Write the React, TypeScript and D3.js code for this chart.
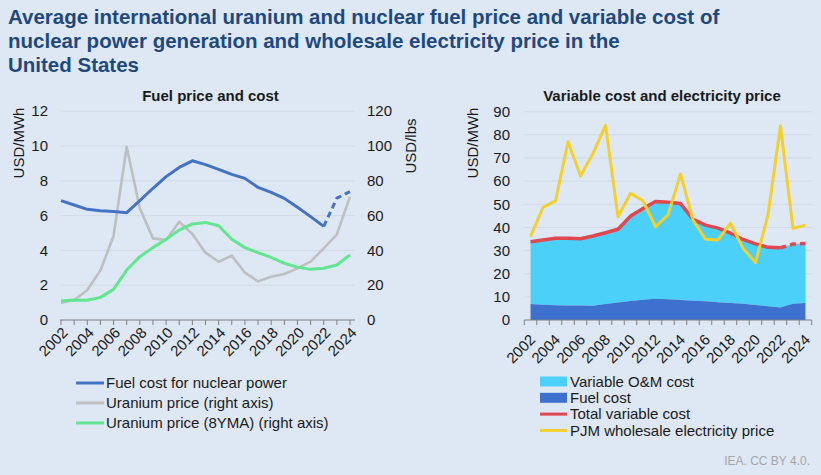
import React from "react";
import * as d3 from "d3";

const years = [2002, 2003, 2004, 2005, 2006, 2007, 2008, 2009, 2010, 2011, 2012, 2013, 2014, 2015, 2016, 2017, 2018, 2019, 2020, 2021, 2022, 2023, 2024];
const yearLabels = [2002, 2004, 2006, 2008, 2010, 2012, 2014, 2016, 2018, 2020, 2022, 2024];

// Left panel (USD/MWh, left axis)
const fuelCost = [6.86, 6.61, 6.36, 6.28, 6.23, 6.17, 6.86, 7.57, 8.24, 8.77, 9.15, 8.93, 8.66, 8.37, 8.14, 7.62, 7.34, 6.99, 6.48, 5.94, 5.38, 7.0, 7.38];
// Right axis USD/lbs
const uraniumPrice = [10, 11.5, 17.2, 28.4, 48.3, 99.6, 64.2, 46.9, 46.0, 56.5, 49.4, 38.7, 33.5, 37.0, 27.2, 22.2, 24.9, 26.4, 29.7, 33.5, 41.2, 49.2, 70.9];
const uranium8yma = [10.9, 11.5, 11.3, 13.0, 17.6, 28.7, 36.4, 41.6, 46.4, 51.7, 55.2, 56.1, 54.2, 46.4, 41.6, 38.7, 36.0, 32.6, 30.4, 29.1, 29.7, 31.6, 37.4];

// Right panel (USD/MWh)
const omCost = [26.94, 27.99, 28.94, 29.02, 28.87, 30.13, 30.84, 31.63, 36.66, 39.43, 42.05, 41.97, 41.64, 35.13, 32.86, 32.08, 30.16, 27.81, 26.42, 25.46, 25.82, 25.8, 25.72];
const totalCost = [33.8, 34.6, 35.3, 35.3, 35.1, 36.3, 37.7, 39.2, 44.9, 48.2, 51.2, 50.9, 50.3, 43.5, 41.0, 39.7, 37.5, 34.8, 32.9, 31.4, 31.2, 32.8, 33.1];
const pjmPrice = [36.0, 48.7, 51.5, 77.0, 62.2, 72.0, 84.1, 44.6, 54.7, 51.5, 40.3, 45.4, 63.1, 43.2, 34.9, 34.6, 41.8, 31.0, 24.8, 45.4, 83.8, 39.6, 41.0];

const leftTicks = [0, 2, 4, 6, 8, 10, 12];
const rightTicks = [0, 20, 40, 60, 80, 100, 120];
const vTicks = [0, 10, 20, 30, 40, 50, 60, 70, 80, 90];

const titleLines = [
  "Average international uranium and nuclear fuel price and variable cost of",
  "nuclear power generation and wholesale electricity price in the",
  "United States",
];

const BG = "#dde8f4";
const FONT = "'Liberation Sans', Arial, Helvetica, sans-serif";
const GRID = "#d2dbe6";
const AXIS = "#7f7f7f";
const TXT = "#1a1a1a";
const C_BLUE = "#4472c4";
const C_GRAY = "#bfbfbf";
const C_GREEN = "#62e68f";
const C_LIGHT = "#4bd0fa";
const C_DARK = "#3d70cf";
const C_RED = "#e0474f";
const C_YEL = "#f5d02a";

export default function App() {
  const W = 821, H = 475;

  // Left panel scales
  const xL = d3.scalePoint<number>().domain(years).range([61, 350]);
  const yL = d3.scaleLinear().domain([0, 12]).range([320, 111.2]);
  const yR = d3.scaleLinear().domain([0, 120]).range([320, 111.2]);

  // Right panel scales
  const xB = d3.scaleBand<number>().domain(years).range([524.3, 811.7]).padding(0);
  const bw = xB.bandwidth();
  const xC = (yr: number) => (xB(yr) as number) + bw / 2;
  const yV = d3.scaleLinear().domain([0, 90]).range([320, 111.7]);

  const idx = years.map((_, i) => i);
  const solidIdx = idx.filter((i) => years[i] <= 2022);
  const dashIdx = idx.filter((i) => years[i] >= 2022);

  const lineL = (vals: number[], ys: d3.ScaleLinear<number, number>) =>
    d3.line<number>().x((i) => xL(years[i]) as number).y((i) => ys(vals[i]));
  const lineV = (vals: number[]) =>
    d3.line<number>().x((i) => xC(years[i])).y((i) => yV(vals[i]));

  const stackData = years.map((yr, i) => ({ yr, fuel: fuelCost[i], om: omCost[i] }));
  const stack = d3.stack<any>().keys(["fuel", "om"])(stackData);
  const area = d3
    .area<any>()
    .x((d) => xC(d.data.yr))
    .y0((d) => yV(d[0]))
    .y1((d) => yV(d[1]));

  const bandEdges = [...years.map((yr) => xB(yr) as number), 811.7];

  return (
    <svg width={W} height={H} style={{ display: "block", position: "absolute", left: 0, top: 0 }} fontFamily={FONT}>
      <rect x={0} y={0} width={W} height={H} fill={BG} />
      {/* Title */}
      {titleLines.map((t, i) => (
        <text key={i} x={8} y={24 + i * 23.8} fontSize={20.5} fontWeight="bold" fill="#1f497d">
          {t}
        </text>
      ))}

      {/* ===== Left panel ===== */}
      <text x={210.5} y={101} textAnchor="middle" fontSize={15} fontWeight="bold" fill={TXT}>
        Fuel price and cost
      </text>
      {leftTicks.filter((t) => t > 0).map((t) => (
        <line key={t} x1={60} x2={355} y1={yL(t)} y2={yL(t)} stroke={GRID} strokeWidth={1} />
      ))}
      {leftTicks.map((t) => (
        <text key={t} x={48} y={yL(t)} dy="0.35em" textAnchor="end" fontSize={15} fill={TXT}>
          {t}
        </text>
      ))}
      {rightTicks.map((t) => (
        <text key={t} x={367} y={yR(t)} dy="0.35em" textAnchor="start" fontSize={15} fill={TXT}>
          {t}
        </text>
      ))}
      <text transform="translate(24,143) rotate(-90)" textAnchor="middle" fontSize={15} fill={TXT}>
        USD/MWh
      </text>
      <text transform="translate(416,146) rotate(-90)" textAnchor="middle" fontSize={15} fill={TXT}>
        USD/lbs
      </text>
      <line x1={60} x2={355} y1={320} y2={320} stroke={AXIS} strokeWidth={1.2} />
      {years.map((yr) => (
        <line key={yr} x1={xL(yr)} x2={xL(yr)} y1={320} y2={325} stroke={AXIS} strokeWidth={1} />
      ))}
      {yearLabels.map((yr) => (
        <text
          key={yr}
          transform={`translate(${(xL(yr) as number) + 4},${330}) rotate(-45)`}
          textAnchor="end"
          dy="0.35em"
          fontSize={15}
          fill={TXT}
        >
          {yr}
        </text>
      ))}
      <path d={lineL(uraniumPrice, yR)(idx) || ""} fill="none" stroke={C_GRAY} strokeWidth={2.6} strokeLinejoin="round" />
      <path d={lineL(uranium8yma, yR)(idx) || ""} fill="none" stroke={C_GREEN} strokeWidth={3} strokeLinejoin="round" />
      <path d={lineL(fuelCost, yL)(solidIdx) || ""} fill="none" stroke={C_BLUE} strokeWidth={3} strokeLinejoin="round" />
      <path d={lineL(fuelCost, yL)(dashIdx) || ""} fill="none" stroke={C_BLUE} strokeWidth={3} strokeDasharray="6,4" />

      {/* Left legend */}
      {[
        { label: "Fuel cost for nuclear power", color: C_BLUE },
        { label: "Uranium price (right axis)", color: C_GRAY },
        { label: "Uranium price (8YMA) (right axis)", color: C_GREEN },
      ].map((d, i) => (
        <g key={i}>
          <line x1={76} x2={104} y1={383 + i * 20} y2={383 + i * 20} stroke={d.color} strokeWidth={3} />
          <text x={106} y={383 + i * 20} dy="0.35em" fontSize={15} fill={TXT}>
            {d.label}
          </text>
        </g>
      ))}

      {/* ===== Right panel ===== */}
      <text x={662} y={101} textAnchor="middle" fontSize={15} fontWeight="bold" fill={TXT}>
        Variable cost and electricity price
      </text>
      {vTicks.filter((t) => t > 0).map((t) => (
        <line key={t} x1={524} x2={812} y1={yV(t)} y2={yV(t)} stroke={GRID} strokeWidth={1} />
      ))}
      {vTicks.map((t) => (
        <text key={t} x={510} y={yV(t)} dy="0.35em" textAnchor="end" fontSize={15} fill={TXT}>
          {t}
        </text>
      ))}
      <text transform="translate(478,143) rotate(-90)" textAnchor="middle" fontSize={15} fill={TXT}>
        USD/MWh
      </text>
      <path d={area(stack[1] as any) || ""} fill={C_LIGHT} />
      <path d={area(stack[0] as any) || ""} fill={C_DARK} />
      <line x1={524.3} x2={811.7} y1={320} y2={320} stroke={AXIS} strokeWidth={1.2} />
      {bandEdges.map((x, i) => (
        <line key={i} x1={x} x2={x} y1={320} y2={325} stroke={AXIS} strokeWidth={1} />
      ))}
      {yearLabels.map((yr) => (
        <text
          key={yr}
          transform={`translate(${xC(yr) + 2},${337}) rotate(-45)`}
          textAnchor="end"
          dy="0.35em"
          fontSize={15}
          fill={TXT}
        >
          {yr}
        </text>
      ))}
      <path d={lineV(totalCost)(solidIdx) || ""} fill="none" stroke={C_RED} strokeWidth={3.5} strokeLinejoin="round" />
      <path d={lineV(totalCost)(dashIdx) || ""} fill="none" stroke={C_RED} strokeWidth={3.5} strokeDasharray="6,4" />
      <path d={lineV(pjmPrice)(idx) || ""} fill="none" stroke={C_YEL} strokeWidth={3} strokeLinejoin="round" />

      {/* Right legend */}
      {[
        { label: "Variable O&M cost", color: C_LIGHT, kind: "rect" },
        { label: "Fuel cost", color: C_DARK, kind: "rect" },
        { label: "Total variable cost", color: C_RED, kind: "line" },
        { label: "PJM wholesale electricity price", color: C_YEL, kind: "line" },
      ].map((d, i) => {
        const y = 381.5 + i * 16.3;
        return (
          <g key={i}>
            {d.kind === "rect" ? (
              <rect x={540} y={y - 5} width={27} height={10} fill={d.color} />
            ) : (
              <line x1={540} x2={567} y1={y} y2={y} stroke={d.color} strokeWidth={3} />
            )}
            <text x={570} y={y} dy="0.35em" fontSize={15} fill={TXT}>
              {d.label}
            </text>
          </g>
        );
      })}

      <text x={810} y={461} dy="0.35em" textAnchor="end" fontSize={12} fill="#a6a6a6">
        IEA. CC BY 4.0.
      </text>
    </svg>
  );
}
